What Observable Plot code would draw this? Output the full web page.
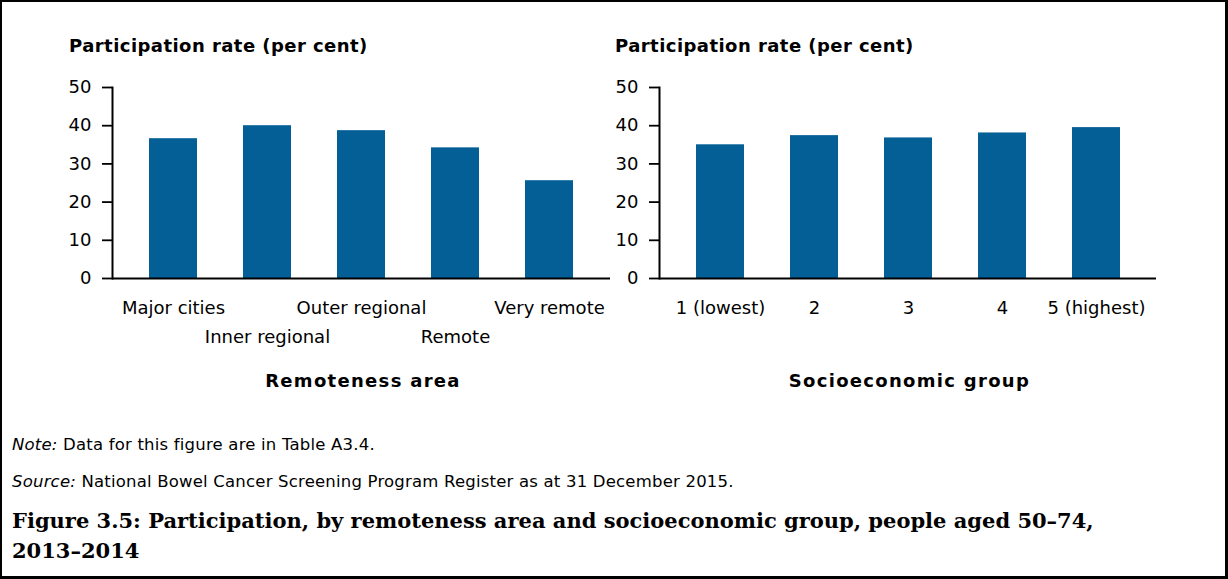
<!DOCTYPE html>
<html>
<head>
<meta charset="utf-8">
<script src="https://cdn.jsdelivr.net/npm/d3@7"></script>
<script src="https://cdn.jsdelivr.net/npm/@observablehq/plot@0.6"></script>
<style>
  html, body { margin: 0; padding: 0; background: #fff; overflow: hidden; }
  #fig { position: relative; width: 1228px; height: 579px; font-family: "DejaVu Sans", sans-serif; color: #000; }
  #frameBox { position: absolute; left: 0; top: 0; width: 1228px; height: 579px; box-sizing: border-box;
              border: 2px solid #000; border-right-width: 3px; border-bottom-width: 3px; pointer-events: none; }
  .panel { position: absolute; top: 0; }
  .ytitle { position: absolute; font-weight: bold; font-size: 18px; line-height: 18px; letter-spacing: 0.45px; white-space: nowrap; }
  .xtitle { position: absolute; font-weight: bold; font-size: 18px; line-height: 18px; letter-spacing: 1.3px; text-align: center; white-space: nowrap; }
  .foot { position: absolute; left: 12px; font-size: 16.5px; line-height: 16.5px; letter-spacing: 0.2px; white-space: nowrap; }
  .caption { position: absolute; left: 12px; top: 506px; font-family: "DejaVu Serif", serif; font-weight: bold; font-size: 21px; line-height: 30px; white-space: nowrap; }
</style>
</head>
<body>
<div id="fig"></div>
<script>
// ---- data ----
const remotenessAreas = ["Major cities", "Inner regional", "Outer regional", "Remote", "Very remote"];
const remotenessRates = [36.6, 40.0, 38.7, 34.2, 25.6];
const socioGroups = ["1 (lowest)", "2", "3", "4", "5 (highest)"];
const socioRates = [35.0, 37.4, 36.8, 38.1, 39.5];
const yTicks = [0, 10, 20, 30, 40, 50];
const yTitle = "Participation rate (per cent)";
const xTitleLeft = "Remoteness area";
const xTitleRight = "Socioeconomic group";
const noteText = "Data for this figure are in Table A3.4.";
const sourceText = "National Bowel Cancer Screening Program Register as at 31 December 2015.";
const captionLine1 = "Figure 3.5: Participation, by remoteness area and socioeconomic group, people aged 50\u201374,";
const captionLine2 = "2013\u20132014";

const barColor = "#035F96";

function panel({cats, rates, rows, marginLeft, marginRight}) {
  const data = cats.map((c, i) => ({cat: c, rate: rates[i]}));
  const rowMarks = rows.map((ticks, r) =>
    Plot.axisX({ticks, tickSize: 0, tickPadding: 23 + 29 * r, label: null, fontSize: 18})
  );
  return Plot.plot({
    width: 614,
    height: 400,
    marginLeft,
    marginRight,
    marginTop: 87,
    marginBottom: 122,
    style: {fontFamily: "DejaVu Sans", fontSize: "18px", color: "#000", background: "transparent", overflow: "visible"},
    x: {type: "band", domain: cats, paddingInner: 0.49, paddingOuter: 0.38},
    y: {domain: [0, 50]},
    marks: [
      Plot.barY(data, {x: "cat", y: "rate", fill: barColor}),
      Plot.axisY({ticks: yTicks, tickSize: 10, tickPadding: 11, label: null, fontSize: 18, strokeWidth: 1.8}),
      Plot.frame({anchor: "left", strokeWidth: 2}),
      Plot.ruleY([0], {strokeWidth: 2}),
      ...rowMarks
    ]
  });
}

const fig = document.getElementById("fig");

const left = panel({
  cats: remotenessAreas, rates: remotenessRates,
  rows: [[remotenessAreas[0], remotenessAreas[2], remotenessAreas[4]], [remotenessAreas[1], remotenessAreas[3]]],
  marginLeft: 112, marginRight: 4
});
left.classList.add("panel");
left.style.left = "0px";
fig.appendChild(left);

const right = panel({
  cats: socioGroups, rates: socioRates,
  rows: [socioGroups],
  marginLeft: 45, marginRight: 72
});
right.classList.add("panel");
right.style.left = "614px";
fig.appendChild(right);

function addDiv(cls, css, html) {
  const d = document.createElement("div");
  d.className = cls;
  Object.assign(d.style, css);
  d.innerHTML = html;
  fig.appendChild(d);
  return d;
}
addDiv("ytitle", {left: "69px", top: "37px"}, yTitle);
addDiv("ytitle", {left: "615px", top: "37px"}, yTitle);
addDiv("xtitle", {left: "114px", width: "498px", top: "372px"}, xTitleLeft);
addDiv("xtitle", {left: "661px", width: "497px", top: "372px"}, xTitleRight);
addDiv("foot", {top: "437px"}, "<i>Note:</i> " + noteText);
addDiv("foot", {top: "474px"}, "<i>Source:</i> " + sourceText);
addDiv("caption", {}, captionLine1 + "<br>" + captionLine2);

const fb = document.createElement("div");
fb.id = "frameBox";
fig.appendChild(fb);
</script>
</body>
</html>
